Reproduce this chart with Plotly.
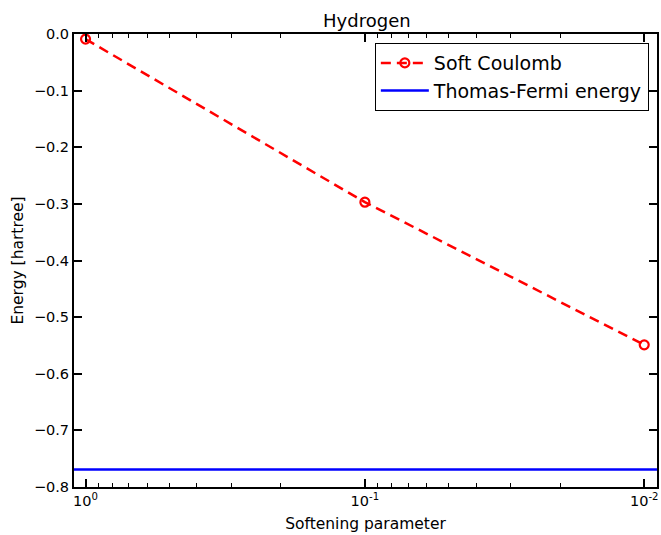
import plotly.graph_objects as go

# Softening parameter values and resulting ground-state energies
softening = [1.0, 0.1, 0.01]
energy_soft = [-0.009, -0.297, -0.549]
tf_energy = -0.769
x_span = [1.1, 0.009]

y_ticks = [0.0, -0.1, -0.2, -0.3, -0.4, -0.5, -0.6, -0.7, -0.8]
x_ticks = [1.0, 0.1, 0.01]
x_ticktext = ["10<sup>0</sup>", "10<sup>-1</sup>", "10<sup>-2</sup>"]
x_minor = [m * d for d in (0.001, 0.01, 0.1, 1.0) for m in range(2, 10)]
x_minor = [v for v in x_minor if 0.009 <= v <= 1.1]

font = "DejaVu Sans, Arial, sans-serif"

fig = go.Figure()
fig.add_trace(go.Scatter(
    x=softening, y=energy_soft, name="Soft Coulomb",
    mode="lines+markers",
    line=dict(color="red", width=2.5, dash="10px,6px"),
    marker=dict(symbol="circle-open", size=9, color="red", line=dict(width=2.2, color="red")),
))
fig.add_trace(go.Scatter(
    x=x_span, y=[tf_energy, tf_energy], name="Thomas-Fermi energy",
    mode="lines", line=dict(color="blue", width=2.5),
))

axis_common = dict(
    showgrid=False, zeroline=False, showline=True, linecolor="black", linewidth=2,
    mirror="ticks", ticks="inside", tickcolor="black", tickwidth=1.5,
    tickfont=dict(family=font, size=14.5, color="black"),
)

fig.update_xaxes(
    type="log",
    range=[0.0414, -2.0458],
    tickvals=x_ticks, ticktext=x_ticktext, ticklen=8,
    minor=dict(tickvals=x_minor, ticks="inside", ticklen=4, tickcolor="black", tickwidth=1.2),
    title=dict(text="Softening parameter", font=dict(family=font, size=15.5, color="black"), standoff=10),
    **axis_common,
)
fig.update_yaxes(
    range=[-0.8, 0.0],
    tickvals=y_ticks, tickformat=".1f", ticklen=8,
    title=dict(text="Energy [hartree]", font=dict(family=font, size=15.5, color="black"), standoff=6),
    **axis_common,
)

fig.update_layout(
    width=661, height=535,
    margin=dict(l=74, r=2, t=34, b=48),
    paper_bgcolor="white", plot_bgcolor="white",
    title=dict(text="Hydrogen", x=0.555, xanchor="center", y=0.962, yanchor="middle",
               font=dict(family=font, size=18, color="black")),
    legend=dict(
        x=0.986, y=0.98, xanchor="right", yanchor="top",
        bordercolor="black", borderwidth=1, bgcolor="white",
        font=dict(family=font, size=19, color="black"),
        itemwidth=48, tracegroupgap=0,
    ),
    showlegend=True,
)

fig.write_html("out.html")
